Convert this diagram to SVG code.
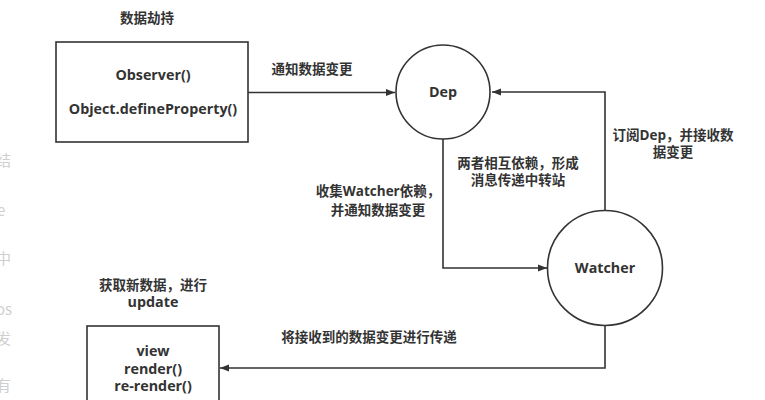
<svg xmlns="http://www.w3.org/2000/svg" width="765" height="400" viewBox="0 0 765 400">
  <style>
    .shape { fill: #fff; stroke: #333; stroke-width: 1.6; }
    .wire { fill: none; stroke: #333; stroke-width: 1.6; }
    text { font-family: "Open Sans", "Noto Sans CJK SC", sans-serif; font-weight: bold; font-size: 13.5px; fill: #333; text-anchor: middle; }
    text.lat { font-size: 14.3px; }
    .ghost { font-family: "Noto Sans CJK SC", sans-serif; font-weight: normal; font-size: 15px; fill: #cfcfcf; text-anchor: start; }
  </style>
  <defs>
    <marker id="arrow" viewBox="0 0 10 10" refX="10" refY="5" markerWidth="9" markerHeight="9" markerUnits="userSpaceOnUse" orient="auto">
      <path d="M0,1 L10,5 L0,9 Z" fill="#333"/>
    </marker>
  </defs>
  <rect width="765" height="400" fill="#fff"/>

  <!-- faint page text at the left edge -->
  <g id="edge-text">
    <text class="ghost" x="-4" y="166">结</text>
    <text class="ghost" x="-3" y="216">e</text>
    <text class="ghost" x="-4" y="264">中</text>
    <text class="ghost" x="-4" y="315">os</text>
    <text class="ghost" x="-4" y="344">发</text>
    <text class="ghost" x="-4" y="391">有</text>
  </g>

  <!-- connectors -->
  <g id="connectors">
    <path class="wire" d="M248,92.5 H395" marker-end="url(#arrow)"/>
    <path class="wire" d="M605,210 V92 H492" marker-end="url(#arrow)"/>
    <path class="wire" d="M443,138 V268 H547" marker-end="url(#arrow)"/>
    <path class="wire" d="M605,326 V368 H220" marker-end="url(#arrow)"/>
    <text x="312" y="74">通知数据变更</text>
    <text x="673" y="140">订阅Dep，并接收数</text>
    <text x="673" y="157">据变更</text>
    <text x="518" y="168">两者相互依赖，形成</text>
    <text x="518" y="185">消息传递中转站</text>
    <text x="378" y="196">收集Watcher依赖，</text>
    <text x="378" y="215">并通知数据变更</text>
    <text x="369" y="342">将接收到的数据变更进行传递</text>
  </g>

  <g id="observer">
    <text x="147" y="23">数据劫持</text>
    <rect class="shape" x="56" y="42" width="192" height="100"/>
    <text class="lat" x="153" y="80">Observer()</text>
    <text class="lat" x="153" y="114">Object.defineProperty()</text>
  </g>

  <g id="dep">
    <circle class="shape" cx="443" cy="92" r="47"/>
    <text class="lat" x="443" y="97">Dep</text>
  </g>

  <g id="watcher">
    <circle class="shape" cx="605" cy="268" r="57.5"/>
    <text class="lat" x="605" y="273">Watcher</text>
  </g>

  <g id="view">
    <text x="153" y="290">获取新数据，进行</text>
    <text class="lat" x="153" y="307">update</text>
    <rect class="shape" x="87" y="326" width="132" height="90"/>
    <text class="lat" x="153" y="356">view</text>
    <text class="lat" x="153" y="374">render()</text>
    <text class="lat" x="153" y="391">re-render()</text>
  </g>
</svg>
